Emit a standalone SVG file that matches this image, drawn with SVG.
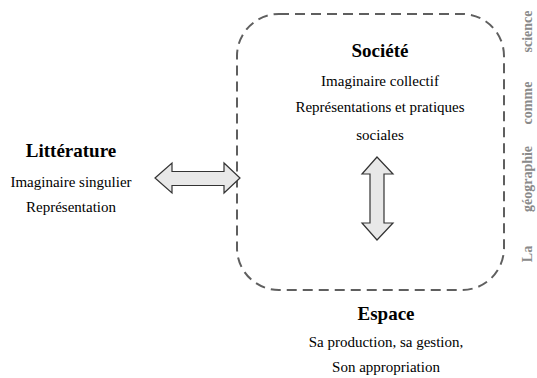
<svg xmlns="http://www.w3.org/2000/svg" width="537" height="378" viewBox="0 0 537 378">
<style>
text{font-family:"Liberation Serif","Times New Roman",serif;text-anchor:middle;fill:#000}
.t{font-weight:bold;font-size:19px}
.s{font-size:15px}
.v{font-weight:bold;font-size:14px;fill:#8a8a8a}
.arr{fill:#e8e8e8;stroke:#333;stroke-width:1.2}
.box{fill:none;stroke:#5f5f5f;stroke-width:2;stroke-dasharray:10,6}
</style>
<rect width="537" height="378" fill="#fff"/>
<g id="societe">
<rect class="box" x="237" y="14" width="267" height="276" rx="42" ry="42"/>
<text class="t" x="380" y="57">Société</text>
<text class="s" x="380" y="86">Imaginaire collectif</text>
<text class="s" x="380" y="112">Représentations et pratiques</text>
<text class="s" x="380" y="140">sociales</text>
</g>
<g id="litterature">
<text class="t" x="71" y="157">Littérature</text>
<text class="s" x="71" y="187">Imaginaire singulier</text>
<text class="s" x="71" y="212">Représentation</text>
</g>
<g id="espace">
<text class="t" x="386" y="320">Espace</text>
<text class="s" x="386" y="347">Sa production, sa gestion,</text>
<text class="s" x="386" y="372">Son appropriation</text>
</g>
<g id="title">
<text class="v" transform="translate(532,254) rotate(-90)">La</text>
<text class="v" transform="translate(532,179) rotate(-90)">géographie</text>
<text class="v" transform="translate(532,103) rotate(-90)">comme</text>
<text class="v" transform="translate(532,31.5) rotate(-90)">science</text>
</g>
<g id="connectors">
<polygon class="arr" points="155,178 172,163 172,171.5 224,171.5 224,163 240,178 224,193 224,185.5 172,185.5 172,193"/>
<polygon class="arr" points="377,157 393,174 384,174 384,223 393,223 377,240 362,223 370,223 370,174 362,174"/>
</g>
</svg>
